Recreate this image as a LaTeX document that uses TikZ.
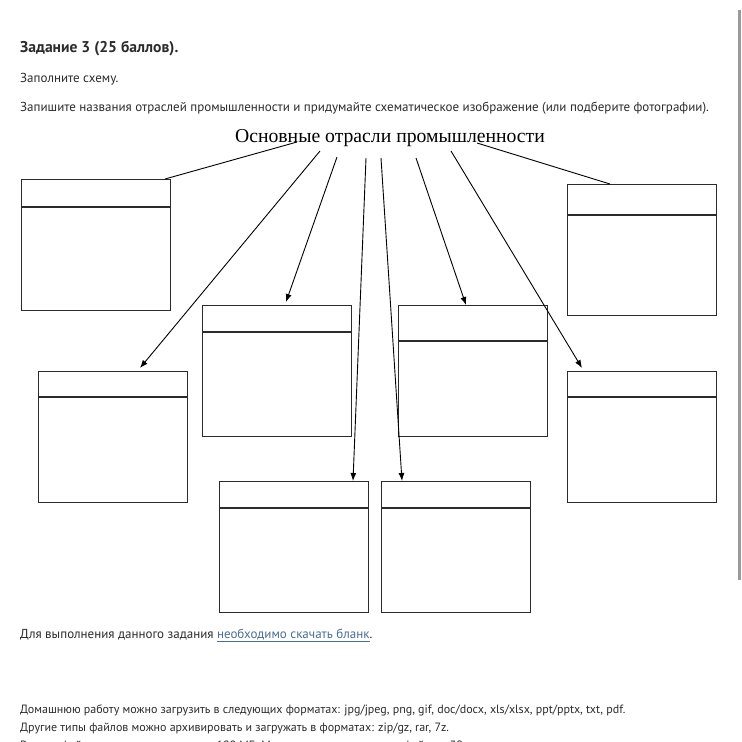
\documentclass[tikz,border=0pt]{standalone}
\usepackage{fontspec}
\setmainfont{PT Sans}
\newfontfamily\titlefont{Liberation Serif}
\usetikzlibrary{arrows.meta}

\definecolor{ink}{HTML}{2B2B2B}
\definecolor{linkblue}{HTML}{4A6D93}
\definecolor{bar}{HTML}{9A9A9A}

\tikzset{
  blank/.style={draw=ink, line width=1.1pt, minimum width=149pt, minimum height=131pt,
    inner sep=0pt, anchor=north west},
  txt/.style={anchor=base west, inner sep=0pt, text=ink, font=\fontsize{13}{15}\selectfont},
  small txt/.style={txt, font=\fontsize{12}{14}\selectfont},
  tie/.style={line width=0.9pt, draw=black},
  pointer/.style={tie, -{Latex[length=8pt,width=6pt]}}
}

\begin{document}
\begin{tikzpicture}[x=1pt,y=-1pt]
\useasboundingbox (0,0) rectangle (742,742);
\clip (0,0) rectangle (742,742);

% page text
\node[txt, font=\bfseries\fontsize{15.6}{18}\selectfont] (task) at (20,52) {Задание 3 (25 баллов).};
\node[txt] (fill) at (20,82) {Заполните схему.};
\node[txt] (hint) at (20,111) {Запишите названия отраслей промышленности и придумайте схематическое изображение (или подберите фотографии).};

% scheme
\node[anchor=base, inner sep=0pt, font=\titlefont\fontsize{19.7}{24}\selectfont] (title) at (390,142) {Основные отрасли промышленности};

\node[blank] (b1) at (21,179) {};
\node[blank] (b2) at (567,184) {};
\node[blank] (b3) at (38,371) {};
\node[blank] (b4) at (202,305) {};
\node[blank] (b5) at (398,305) {};
\node[blank] (b6) at (567,371) {};
\node[blank] (b7) at (219,481) {};
\node[blank] (b8) at (381,481) {};

% header strips
\draw[ink, line width=1.1pt] ([shift={(0,28)}]b1.north west) -- ([shift={(0,28)}]b1.north east);
\draw[ink, line width=1.1pt] ([shift={(0,31)}]b2.north west) -- ([shift={(0,31)}]b2.north east);
\draw[ink, line width=1.1pt] ([shift={(0,26)}]b3.north west) -- ([shift={(0,26)}]b3.north east);
\draw[ink, line width=1.1pt] ([shift={(0,27)}]b4.north west) -- ([shift={(0,27)}]b4.north east);
\draw[ink, line width=1.1pt] ([shift={(0,36)}]b5.north west) -- ([shift={(0,36)}]b5.north east);
\draw[ink, line width=1.1pt] ([shift={(0,26)}]b6.north west) -- ([shift={(0,26)}]b6.north east);
\draw[ink, line width=1.1pt] ([shift={(0,27)}]b7.north west) -- ([shift={(0,27)}]b7.north east);
\draw[ink, line width=1.1pt] ([shift={(0,27)}]b8.north west) -- ([shift={(0,27)}]b8.north east);

% connectors
\draw[tie] ([shift={(-93,0)}]title.base) -- ([shift={(144,0)}]b1.north west);
\draw[pointer] ([shift={(-70,9)}]title.base) -- ([shift={(102,-3)}]b3.north west);
\draw[pointer] ([shift={(-53,15)}]title.base) -- ([shift={(84,-3)}]b4.north west);
\draw[pointer] ([shift={(-24,16)}]title.base) -- ([shift={(134,0)}]b7.north west);
\draw[pointer] ([shift={(-9,16)}]title.base) -- ([shift={(21,0)}]b8.north west);
\draw[pointer] ([shift={(26,16)}]title.base) -- ([shift={(68,0)}]b5.north west);
\draw[pointer] ([shift={(61,9)}]title.base) -- ([shift={(15,-3)}]b6.north west);
\draw[tie] ([shift={(87,1)}]title.base) -- ([shift={(43,0)}]b2.north west);

% footer text
\node[txt] (blank) at (20,638) {Для выполнения данного задания \textcolor{linkblue}{\underline{необходимо скачать бланк}}.};
\node[small txt] (fmt) at (20,713) {Домашнюю работу можно загрузить в следующих форматах: jpg/jpeg, png, gif, doc/docx, xls/xlsx, ppt/pptx, txt, pdf.};
\node[small txt] (zip) at (20,731) {Другие типы файлов можно архивировать и загружать в форматах: zip/gz, rar, 7z.};
\node[small txt] (size) at (20,749) {Размер файла не должен превышать 100 МБ. Максимальное количество файлов: 30.};

% scroll bar
\fill[bar] (738,10) rectangle (741,580);
\end{tikzpicture}
\end{document}
